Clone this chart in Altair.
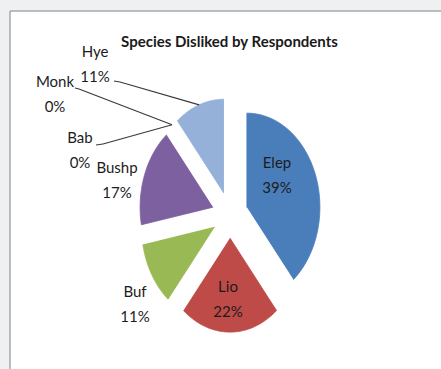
import altair as alt
import pandas as pd

# ---- data -------------------------------------------------------------
categories = ["Elep", "Lio", "Buf", "Bushp", "Bab", "Monk", "Hye"]
shares = [39, 22, 11, 17, 0, 0, 11]
slice_colors = ["#4a7ebb", "#be4b48", "#98b954", "#7d60a0", "#4bacc6", "#f79646", "#95b1d9"]
title_text = "Species Disliked by Respondents"

# ---- layout (pixels on the page) --------------------------------------
W, H = 441, 369
LEFT, TOP = 10, 11
CX, CY = 230, 215          # pie centre
RX, RY = 73, 94            # pie radii (horizontal, vertical)
EXPLODE = 0.246            # slice offset as a fraction of the radius
STEPS = 90                 # arc resolution per slice
FONT = "Lato"
TEXT_COLOR = "#1c1c1c"

# label anchor (centre of the name line) for each slice
label_pos = {
    "Elep": (277, 163), "Lio": (228, 287), "Buf": (135, 292),
    "Bushp": (117, 168), "Bab": (80, 138), "Monk": (55, 82), "Hye": (95, 52),
}
# leader lines: label end and bend point, then to the slice edge
leader_pos = {
    "Hye": ((114, 81), (120, 82)),
    "Monk": ((75, 88), (79, 89)),
    "Bab": ((96, 145), (103, 144)),
}


def ux(px):
    return (px - CX) / RX


def vy(py):
    return (CY - py) / RY


pw, ph = W - LEFT, H - TOP
x_scale = alt.Scale(domain=[ux(LEFT), ux(W)], nice=False, zero=False)
y_scale = alt.Scale(domain=[vy(H), vy(TOP)], nice=False, zero=False)
color_scale = alt.Scale(domain=categories, range=slice_colors)

base = pd.DataFrame({"cat": categories, "val": shares})
base["start"] = base["val"].cumsum() - base["val"]
base["total"] = sum(shares)

angle_calcs = dict(
    a0="2*PI*datum.start/datum.total",
    a1="2*PI*(datum.start+datum.val)/datum.total",
)

# ---- exploded slices drawn as filled outlines ----------------------------
slices = (
    alt.Chart(base)
    .transform_filter("datum.val > 0")
    .transform_calculate(**angle_calcs)
    .transform_calculate(mid="(datum.a0+datum.a1)/2", k=f"sequence(-1, {STEPS + 1})")
    .transform_flatten(["k"])
    .transform_calculate(
        t=f"datum.k < 0 ? datum.mid : datum.a0 + (datum.a1-datum.a0)*datum.k/{STEPS}",
        r="datum.k < 0 ? 0 : 1",
    )
    .transform_calculate(
        px=f"{EXPLODE}*sin(datum.mid) + datum.r*sin(datum.t)",
        py=f"{EXPLODE}*cos(datum.mid) + datum.r*cos(datum.t)",
    )
    .mark_line(strokeWidth=0.8, interpolate="linear")
    .encode(
        x=alt.X("px:Q", scale=x_scale, axis=None),
        y=alt.Y("py:Q", scale=y_scale, axis=None),
        order=alt.Order("k:Q"),
        detail="cat:N",
        fill=alt.Fill("cat:N", scale=color_scale, legend=None),
        stroke=alt.Stroke("cat:N", scale=color_scale, legend=None),
    )
)

# ---- data labels ------------------------------------------------------
labels_df = base.copy()
labels_df["pct"] = labels_df["val"].astype(str) + "%"
labels_df["lx"] = [ux(label_pos[c][0]) for c in categories]
labels_df["ly"] = [vy(label_pos[c][1]) for c in categories]

name_text = alt.Chart(labels_df).mark_text(
    font=FONT, fontSize=15, color=TEXT_COLOR, baseline="middle", align="center"
).encode(
    x=alt.X("lx:Q", scale=x_scale, axis=None),
    y=alt.Y("ly:Q", scale=y_scale, axis=None),
    text="cat:N",
)
pct_text = alt.Chart(labels_df).mark_text(
    font=FONT, fontSize=15, color=TEXT_COLOR, baseline="middle", align="center", dy=24.5
).encode(
    x=alt.X("lx:Q", scale=x_scale, axis=None),
    y=alt.Y("ly:Q", scale=y_scale, axis=None),
    text="pct:N",
)

# ---- leader lines -----------------------------------------------------
lead_df = base[base["cat"].isin(list(leader_pos))].copy()
lead_df["sx"] = [ux(leader_pos[c][0][0]) for c in lead_df["cat"]]
lead_df["sy"] = [vy(leader_pos[c][0][1]) for c in lead_df["cat"]]
lead_df["bx"] = [ux(leader_pos[c][1][0]) for c in lead_df["cat"]]
lead_df["by"] = [vy(leader_pos[c][1][1]) for c in lead_df["cat"]]

lead_base = (
    alt.Chart(lead_df)
    .transform_calculate(**angle_calcs)
    .transform_calculate(mid="(datum.a0+datum.a1)/2")
    .transform_calculate(
        ex=f"(1+{EXPLODE})*sin(datum.mid)",
        ey=f"(1+{EXPLODE})*cos(datum.mid)",
    )
)
lead1 = lead_base.mark_rule(color="#3a3a3a", strokeWidth=1.2).encode(
    x=alt.X("sx:Q", scale=x_scale, axis=None),
    y=alt.Y("sy:Q", scale=y_scale, axis=None),
    x2="bx:Q",
    y2="by:Q",
)
lead2 = lead_base.mark_rule(color="#3a3a3a", strokeWidth=1.2).encode(
    x=alt.X("bx:Q", scale=x_scale, axis=None),
    y=alt.Y("by:Q", scale=y_scale, axis=None),
    x2="ex:Q",
    y2="ey:Q",
)

# ---- title and frame --------------------------------------------------
title = alt.Chart(alt.Data(values=[{"t": title_text}])).mark_text(
    font=FONT, fontSize=15, fontWeight="bold", color="#1a1a1a", baseline="middle", align="center"
).encode(
    x=alt.value(229.5 - LEFT),
    y=alt.value(42 - TOP),
    text="t:N",
)

frame_left = alt.Chart(alt.Data(values=[{}])).mark_rule(color="#a9a9a9", strokeWidth=1.5).encode(
    x=alt.value(0), y=alt.value(0), y2=alt.value(ph)
)
frame_top = alt.Chart(alt.Data(values=[{}])).mark_rule(color="#a9a9a9", strokeWidth=1.5).encode(
    x=alt.value(0), x2=alt.value(pw), y=alt.value(0)
)

chart = (
    alt.layer(slices, lead1, lead2, name_text, pct_text, title, frame_left, frame_top)
    .properties(
        width=pw,
        height=ph,
        autosize=alt.AutoSizeParams(type="none"),
        padding={"left": LEFT, "top": TOP, "right": 0, "bottom": 0},
        background="#eef0f2",
    )
    .configure_view(fill="white", strokeWidth=0)
)

chart.save("out.html", embed_options={"renderer": "svg", "actions": False})
